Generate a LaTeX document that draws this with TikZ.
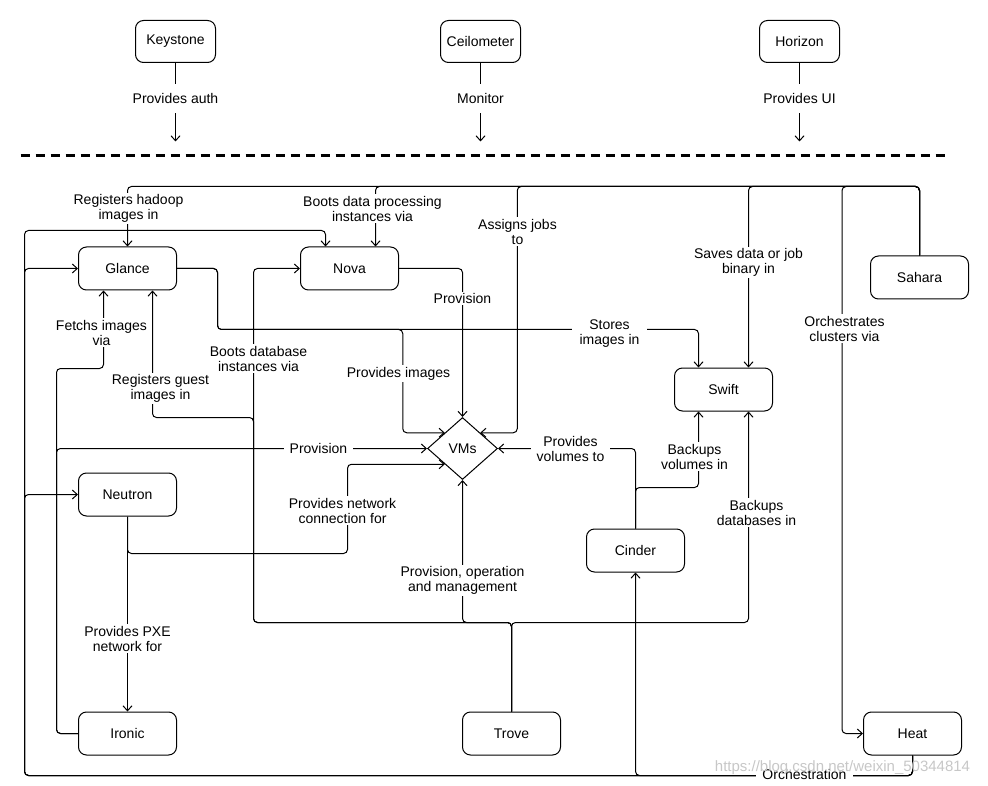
\documentclass[tikz,border=0pt]{standalone}
\usepackage{fontspec}
\setmainfont{Liberation Sans}
\usetikzlibrary{arrows.meta,shapes.geometric}
\begin{document}
\begin{tikzpicture}[x=1pt,y=-1pt,
  font=\fontsize{14}{15}\selectfont,
  box/.style={draw,line width=1pt,rounded corners=8pt,minimum width=98pt,minimum height=43pt,inner sep=0pt},
  topbox/.style={box,minimum width=80pt,minimum height=42pt,font=\fontsize{14}{15}\selectfont},
  vm/.style={draw,line width=1pt,shape=diamond,minimum width=70pt,minimum height=62pt,inner sep=0pt},
  conn/.style={draw,line width=1pt,rounded corners=4pt,-{Straight Barb[length=5pt,width=9pt]}},
  lbl/.style={fill=white,inner sep=1.5pt,align=center},
  toplbl/.style={fill=white,inner xsep=2pt,inner ysep=9pt,font=\fontsize{14}{15}\selectfont},
  dashline/.style={draw,line width=3pt,dash pattern=on 9pt off 6pt},
]
\useasboundingbox (-0.5,-0.5) rectangle (987.5,785.5);

% top services
\node[topbox] (keystone) at (175,41) {Keystone};
\node[topbox] (ceilometer) at (480,41) {Ceilometer};
\node[topbox] (horizon) at (799,41) {Horizon};
\coordinate (ksend) at (175,141);
\coordinate (ceend) at (480,141);
\coordinate (hoend) at (799,141);
\draw[conn] (keystone) -- (ksend);
\draw[conn] (ceilometer) -- (ceend);
\draw[conn] (horizon) -- (hoend);
\node[toplbl] (lauth) at (175,98) {Provides auth};
\node[toplbl] (lmon) at (480,98) {Monitor};
\node[toplbl] (lui) at (799,98) {Provides UI};

\coordinate (dl) at (20,155);
\coordinate (dr) at (945,155);
\draw[dashline] (dl) -- (dr);

% main nodes
\node[box] (glance) at (127,268) {Glance};
\node[box] (nova) at (349,268) {Nova};
\node[box] (sahara) at (919,277) {Sahara};
\node[box] (swift) at (723,389) {Swift};
\node[vm] (vms) at (462,448) {VMs};
\node[box] (neutron) at (127,494) {Neutron};
\node[box] (cinder) at (635,550) {Cinder};
\node[box] (ironic) at (127,733) {Ironic};
\node[box] (trove) at (511,733) {Trove};
\node[box] (heat) at (912,733) {Heat};

% Sahara
\draw[conn] (sahara.north) -- (919,186) -| (glance.north);
\draw[conn] (sahara.north) -- (919,186) -| ([xshift=26pt]nova.north);
\draw[conn] (sahara.north) -- (919,186) -| ([xshift=37pt]vms.north east) -- (vms.north east);
\draw[conn] (sahara.north) -- (919,186) -| ([xshift=25pt]swift.north);
\draw[conn] (sahara.north) -- (919,186) -| ([xshift=-21pt]heat.west) -- (heat.west);

% Glance
\draw[conn] (glance.east) -| (217,329) -| ([xshift=-25pt]swift.north);
\draw[conn] (glance.east) -| (217,329) -| ([xshift=-42pt]vms.north west) -- (vms.north west);

% Nova
\draw[conn] (nova.east) -| (vms.north);

% Ironic
\draw[conn] (ironic.west) -| (56,368) -| ([xshift=-24pt]glance.south);
\draw[conn] (ironic.west) -| (56,448) -- (vms.west);

% Heat
\draw[conn] (heat.south) -- (912,775) -| (cinder.south);
\draw[conn] (heat.south) -- (912,775) -| (24,494) -- (neutron.west);
\draw[conn] (heat.south) -- (912,775) -| (24,268) -- (glance.west);
\draw[conn] (heat.south) -- (912,775) -| (24,230) -| ([xshift=-24pt]nova.north);

% Neutron
\draw[conn] (neutron.south) -- (ironic.north);
\draw[conn] (neutron.south) |- (347,553) |- (vms.south west);

% Trove
\draw[conn] (trove.north) |- (253,622) |- (nova.west);
\draw[conn] (trove.north) |- (253,622) -- (253,417) -| ([xshift=25pt]glance.south);
\draw[conn] (trove.north) -- (511,622) -| (vms.south);
\draw[conn] (trove.north) -- (511,622) -| ([xshift=25pt]swift.south);

% Cinder
\draw[conn] (cinder.north) |- (vms.east);
\draw[conn] (cinder.north) |- (698,487) -- ([xshift=-25pt]swift.south);

% labels
\node[lbl] (l1) at (128,208) {Registers hadoop\\images in};
\node[lbl] (l2) at (372,208) {Boots data processing\\instances via};
\node[lbl] (l3) at (517,231) {Assigns jobs\\to};
\node[lbl] (l4) at (748,262) {Saves data or job\\binary in};
\node[lbl] (l5) at (844,328) {Orchestrates\\clusters via};
\node[lbl,inner xsep=8pt] (l6) at (609,333) {Stores\\images in};
\node[lbl] (l7) at (398,373) {Provides images};
\node[lbl] (l8) at (462,298) {Provision};
\node[lbl] (l9) at (101,332) {Fetchs images\\via};
\node[lbl,inner xsep=6pt] (l10) at (318,448) {Provision};
\node[lbl,inner xsep=6pt] (l11) at (804,774) {Orchestration};
\node[lbl] (l12) at (127,638) {Provides PXE\\network for};
\node[lbl] (l13) at (342,510) {Provides network\\connection for};
\node[lbl] (l14) at (258,358) {Boots database\\instances via};
\node[lbl] (l15) at (160,388) {Registers guest\\images in};
\node[lbl] (l16) at (462,580) {Provision, operation\\and management};
\node[lbl] (l17) at (756,512) {Backups\\databases in};
\node[lbl,inner xsep=6pt] (l18) at (570,448) {Provides\\volumes to};
\node[lbl] (l19) at (694,456) {Backups\\volumes in};

% watermark
\node[text=black!22,font=\fontsize{15}{17}\selectfont] (wm) at (842,767) {https://blog.csdn.net/weixin\_50344814};
\end{tikzpicture}
\end{document}
